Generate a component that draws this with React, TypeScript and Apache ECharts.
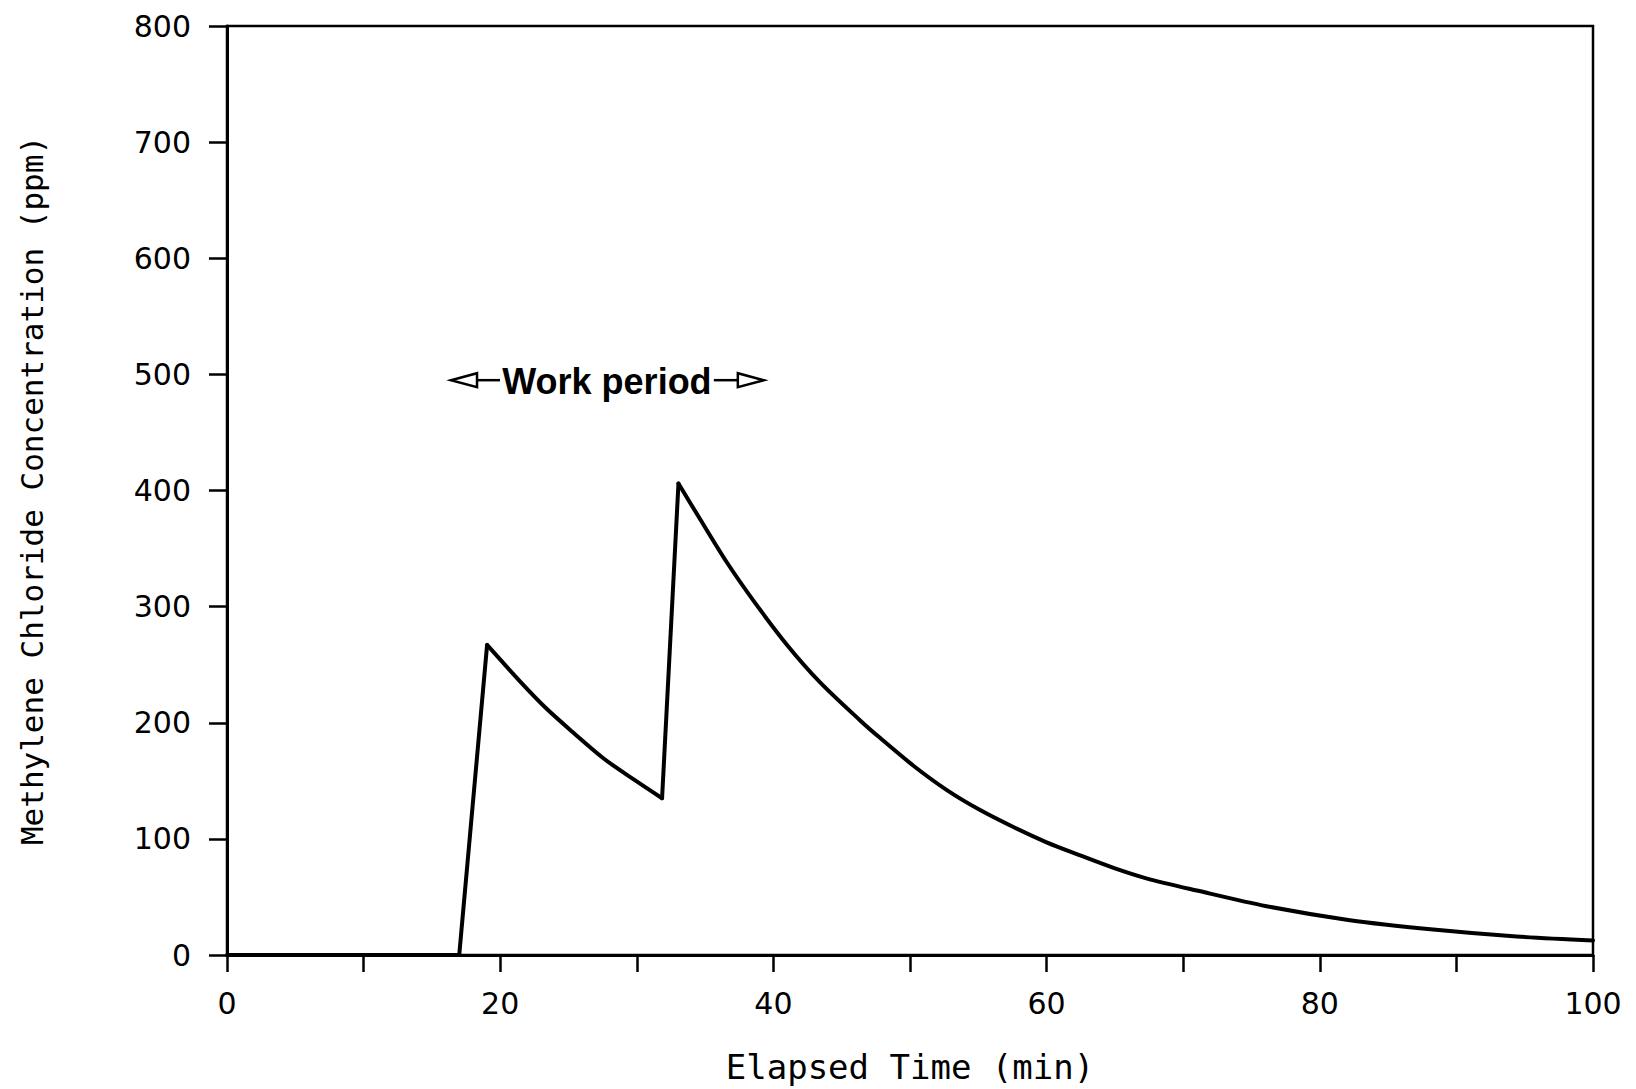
import React, { useEffect, useRef } from "react";
import * as echarts from "echarts";

// Elapsed time (min) and methylene chloride concentration (ppm)
const onsetTime = [0, 17.0, 19.04];
const onsetConc = [0, 0, 267];

const decay1Time = [19.04, 21.5, 23.4, 25.4, 27.6, 29.8, 31.85];
const decay1Conc = [267, 235, 212, 191, 169, 151, 135];

const rise2Time = [31.85, 33.05];
const rise2Conc = [135, 406];

const decay2Time = [33.05, 34.65, 36.6, 38.55, 41.0, 43.4, 46.35, 47.8, 50.25, 52.7, 55.1, 57.6, 60.0, 62.4, 64.9, 67.3, 71.0, 76.1, 82.2, 88.3, 94.4, 100];
const decay2Conc = [406, 375, 338, 305, 267, 235, 202, 187, 163, 142, 125, 110, 97, 86, 75, 66, 55.5, 42, 30, 22, 16, 12.5];

const xTicks = [0, 20, 40, 60, 80, 100];
const yTicks = [0, 100, 200, 300, 400, 500, 600, 700, 800];

const annotationText = "Work period";
const annotationStart = 16.4;
const annotationEnd = 39.3;
const annotationLevel = 495;

const zip = (xs: number[], ys: number[]) => xs.map((x, i) => [x, ys[i]]);

const TICK_FONT = "DejaVu Sans";
const TITLE_FONT = "DejaVu Sans Mono";

export default function App() {
  const ref = useRef<HTMLDivElement>(null);
  useEffect(() => {
    document.body.style.margin = "0";
    const chart = echarts.init(ref.current!, null, { renderer: "svg" });
    const lineStyle = { color: "#000", width: 4, cap: "round" as const, join: "round" as const };
    const mk = (data: number[][], smooth: boolean) => ({
      type: "line",
      data,
      smooth: smooth ? 0.3 : false,
      showSymbol: false,
      symbol: "none",
      lineStyle,
      z: 3,
    });
    chart.setOption({
      animation: false,
      backgroundColor: "#fff",
      grid: {
        left: 227,
        right: 43,
        top: 26,
        bottom: 132,
        show: true,
        borderColor: "#000",
        borderWidth: 2.5,
        backgroundColor: "transparent",
      },
      xAxis: {
        type: "value",
        min: 0,
        max: 100,
        interval: 10,
        name: "Elapsed Time (min)",
        nameLocation: "middle",
        nameGap: 95,
        nameTextStyle: { fontFamily: TITLE_FONT, fontSize: 34, color: "#000" },
        axisLine: { show: true, lineStyle: { color: "#000", width: 3 } },
        axisTick: { show: true, inside: false, length: 17, lineStyle: { color: "#000", width: 2.5 } },
        axisLabel: {
          margin: 33,
          fontFamily: TICK_FONT,
          fontSize: 30,
          color: "#000",
          formatter: (v: number) => (xTicks.includes(v) ? String(v) : ""),
        },
        splitLine: { show: false },
      },
      yAxis: {
        type: "value",
        min: 0,
        max: 800,
        interval: 100,
        name: "Methylene Chloride Concentration (ppm)",
        nameLocation: "middle",
        nameRotate: 90,
        nameGap: 180,
        nameTextStyle: { fontFamily: TITLE_FONT, fontSize: 31, color: "#000" },
        axisLine: { show: true, lineStyle: { color: "#000", width: 3 } },
        axisTick: { show: true, inside: false, length: 18, lineStyle: { color: "#000", width: 2.5 } },
        axisLabel: {
          margin: 36,
          fontFamily: TICK_FONT,
          fontSize: 30,
          color: "#000",
          formatter: (v: number) => (yTicks.includes(v) ? String(v) : ""),
        },
        splitLine: { show: false },
      },
      series: [
        mk(zip(onsetTime, onsetConc), false),
        mk(zip(decay1Time, decay1Conc), true),
        mk(zip(rise2Time, rise2Conc), false),
        mk(zip(decay2Time, decay2Conc), true),
      ],
    });

    // annotation with open-triangle arrows, placed in data coordinates
    const [xl, yc] = chart.convertToPixel({ gridIndex: 0 }, [annotationStart, annotationLevel]) as number[];
    const [xr] = chart.convertToPixel({ gridIndex: 0 }, [annotationEnd, annotationLevel]) as number[];
    const triW = 26;
    const triH = 7;
    const textLeft = xl + 50;
    const textRight = xr - 51;
    const stroke = { stroke: "#000", lineWidth: 2.5, fill: "#fff" };
    chart.setOption({
      graphic: [
        {
          type: "polygon",
          shape: { points: [[xl, yc], [xl + triW, yc - triH], [xl + triW, yc + triH]] },
          style: stroke,
        },
        { type: "line", shape: { x1: xl + triW, y1: yc, x2: textLeft - 1, y2: yc }, style: { stroke: "#000", lineWidth: 2.5 } },
        {
          type: "text",
          x: (textLeft + textRight) / 2,
          y: yc + 1,
          style: {
            text: annotationText,
            fontFamily: "Liberation Sans",
            fontWeight: "bold",
            fontSize: 36,
            fill: "#000",
            align: "center",
            verticalAlign: "middle",
          },
        },
        { type: "line", shape: { x1: textRight + 1, y1: yc, x2: xr - triW, y2: yc }, style: { stroke: "#000", lineWidth: 2.5 } },
        {
          type: "polygon",
          shape: { points: [[xr, yc], [xr - triW, yc - triH], [xr - triW, yc + triH]] },
          style: stroke,
        },
      ],
    });
    return () => chart.dispose();
  }, []);
  return (
    <div
      ref={ref}
      style={{ position: "absolute", left: 0, top: 0, width: 1636, height: 1089, background: "#fff" }}
    />
  );
}
